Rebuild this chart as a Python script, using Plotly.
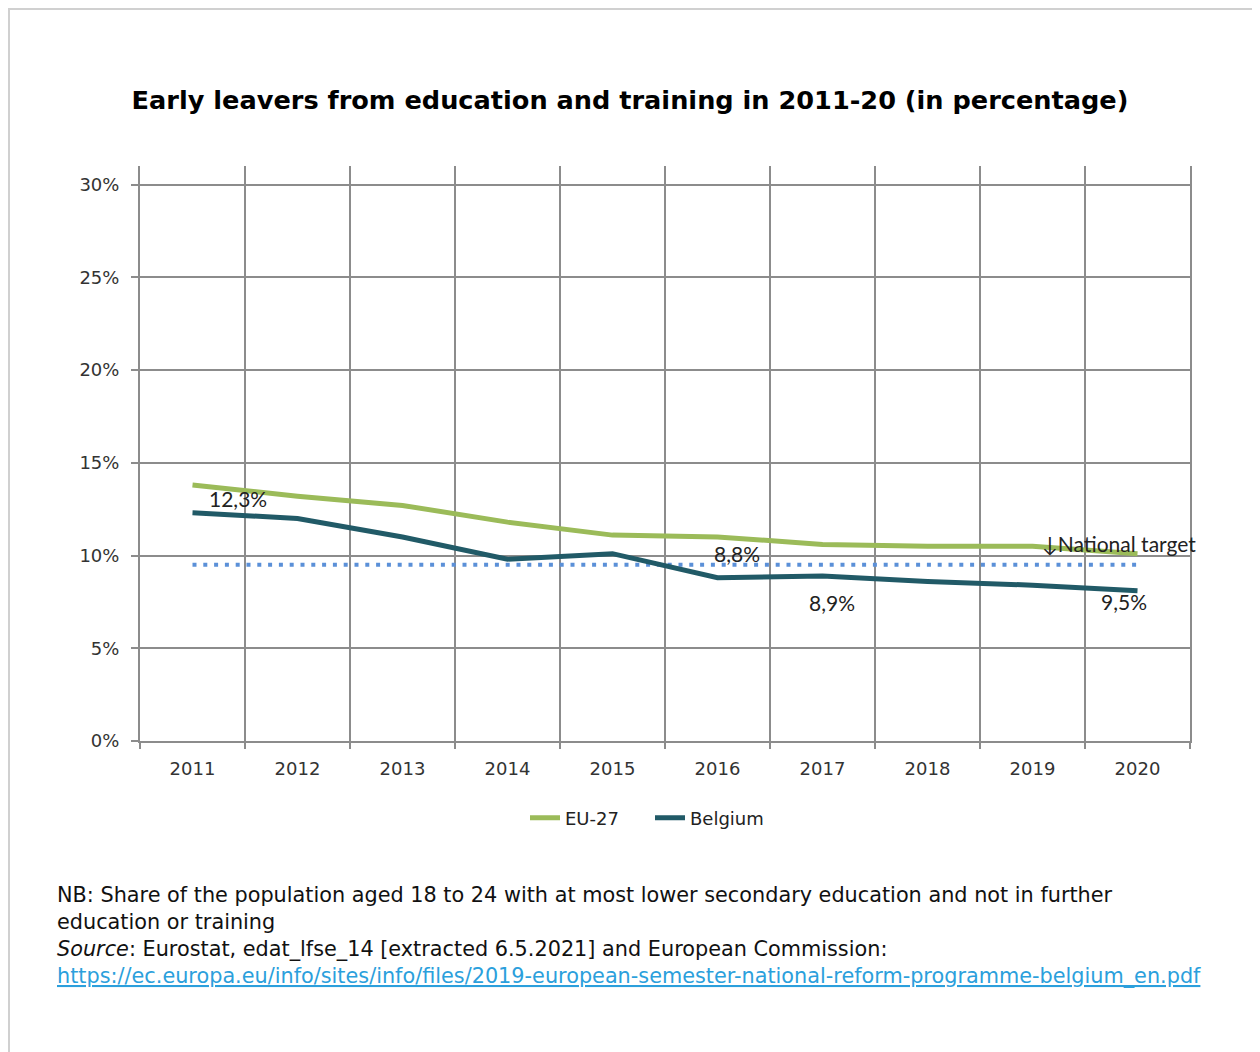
import plotly.graph_objects as go

years = ["2011", "2012", "2013", "2014", "2015", "2016", "2017", "2018", "2019", "2020"]
eu27 = [13.8, 13.2, 12.7, 11.8, 11.1, 11.0, 10.6, 10.5, 10.5, 10.1]
belgium = [12.3, 12.0, 11.0, 9.8, 10.1, 8.8, 8.9, 8.6, 8.4, 8.1]
national_target = [9.5] * 10
y_ticks = [0, 5, 10, 15, 20, 25, 30]
y_ticktext = ["0%", "5%", "10%", "15%", "20%", "25%", "30%"]

idx = list(range(len(years)))
bounds = [i - 0.5 for i in range(len(years) + 1)]

GRID = "#8c8c8c"
TICKFONT = dict(family="DejaVu Sans", size=18, color="#333333")
LABELFONT = dict(family="Lato", size=21, color="#222222")

fig = go.Figure()
fig.add_trace(go.Scatter(x=idx, y=national_target, mode="lines", showlegend=False,
                         line=dict(color="#5b90d8", width=4, dash="4px,6.8px"),
                         hoverinfo="skip"))
fig.add_trace(go.Scatter(x=idx, y=eu27, mode="lines", name="EU-27",
                         line=dict(color="#9bbb59", width=5)))
fig.add_trace(go.Scatter(x=idx, y=belgium, mode="lines", name="Belgium",
                         line=dict(color="#215a67", width=5)))

annotations = [
    dict(x=0, y=belgium[0], text="12,3%", xshift=45, yshift=14),
    dict(x=5, y=belgium[5], text="8,8%", xshift=19, yshift=24),
    dict(x=6, y=belgium[6], text="8,9%", xshift=9, yshift=-27),
    dict(x=9, y=belgium[9], text="9,5%", xshift=-14, yshift=-11),
    dict(x=9, y=national_target[9], text="↓National target", xshift=-19, yshift=21),
]
for a in annotations:
    a.update(xref="x", yref="y", showarrow=False, font=LABELFONT)

OFF = 8  # page offset of the figure
W, H = 1252, 1044
L, R, T, B = 140 - OFF, 70, 166 - OFF, 311
pw, ph = W - L - R, H - T - B

def px(xs):
    return (xs - OFF - L) / pw

def py(ys):
    return (H - B - (ys - OFF)) / ph

NOTEFONT = dict(family="DejaVu Sans", size=20.8, color="#111111")
notes = [
    (895, "NB: Share of the population aged 18 to 24 with at most lower secondary education and not in further"),
    (922, "education or training"),
    (949, "<i>Source</i>: Eurostat, edat_lfse_14 [extracted 6.5.2021] and European Commission:"),
    (976, "<a href='https://ec.europa.eu/info/sites/info/files/2019-european-semester-national-reform-programme-belgium_en.pdf'>"
          "<span style='color:#2b9fdc;text-decoration:underline'>"
          "https://ec.europa.eu/info/sites/info/files/2019-european-semester-national-reform-programme-belgium_en.pdf"
          "</span></a>"),
]
for ypix, txt in notes:
    annotations.append(dict(xref="paper", yref="paper", x=px(55), y=py(ypix), xanchor="left",
                            yanchor="middle", text=txt, showarrow=False, font=NOTEFONT))

fig.update_layout(
    width=W, height=H,
    margin=dict(l=L, r=R, t=T, b=B),
    paper_bgcolor="white", plot_bgcolor="white",
    title=dict(text="<b>Early leavers from education and training in 2011-20 (in percentage)</b>",
               x=(630 - OFF) / W, xref="container", y=1 - (100 - OFF) / H, yref="container",
               xanchor="center", yanchor="middle",
               font=dict(family="DejaVu Sans", size=25.6, color="#000000")),
    xaxis=dict(range=[-0.5, len(years) - 0.5], tickmode="array", tickvals=idx, ticktext=years,
               showgrid=False, zeroline=False, showline=True, linecolor=GRID, linewidth=2,
               ticks="", tickfont=TICKFONT, ticklabelstandoff=10),
    xaxis2=dict(range=[-0.5, len(years) - 0.5], overlaying="x", side="bottom",
                tickmode="array", tickvals=bounds, showticklabels=False,
                showgrid=True, gridcolor=GRID, gridwidth=2, zeroline=False,
                ticks="outside", ticklen=7, tickwidth=2, tickcolor=GRID),
    yaxis=dict(range=[0, 31], tickmode="array", tickvals=y_ticks, ticktext=y_ticktext,
               showgrid=True, gridcolor=GRID, gridwidth=2, zeroline=False,
               showline=True, mirror=True, linecolor=GRID, linewidth=2,
               ticks="outside", ticklen=7, tickwidth=2, tickcolor=GRID,
               tickfont=TICKFONT, ticklabelstandoff=8),
    legend=dict(orientation="h", x=px(650), y=py(818), xanchor="center", yanchor="middle",
                font=dict(family="DejaVu Sans", size=18, color="#222222"),
                itemwidth=30, tracegroupgap=0, entrywidth=80, entrywidthmode="pixels"),
    annotations=annotations,
    shapes=[
        dict(type="line", xref="paper", yref="paper", x0=px(8), x1=px(1300), y0=py(9), y1=py(9),
             line=dict(color="#d0d0d0", width=2)),
        dict(type="line", xref="paper", yref="paper", x0=px(9), x1=px(9), y0=py(9), y1=py(1100),
             line=dict(color="#d0d0d0", width=2)),
    ],
    showlegend=True,
)
# dummy trace to activate xaxis2 gridlines
fig.add_trace(go.Scatter(x=[None], y=[None], xaxis="x2", showlegend=False, hoverinfo="skip"))

fig.write_html("out.html")
